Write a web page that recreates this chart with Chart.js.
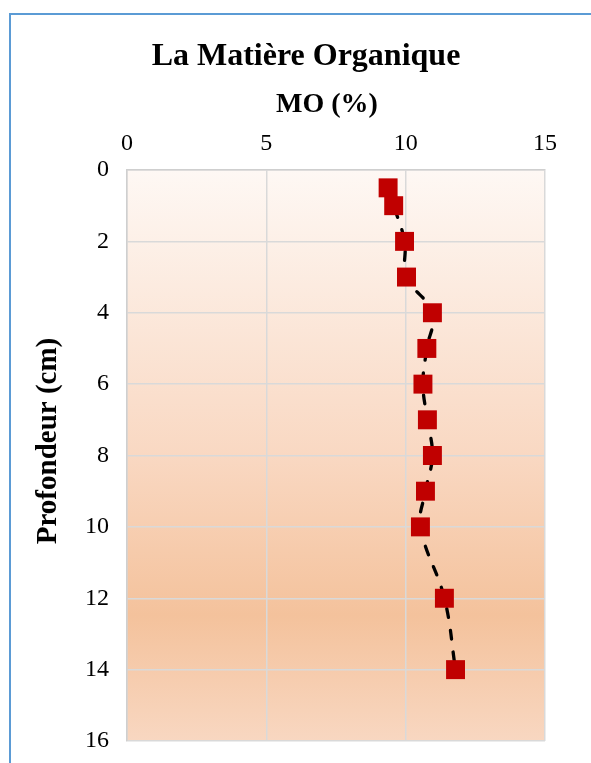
<!DOCTYPE html>
<html>
<head>
<meta charset="utf-8">
<script src="https://cdn.jsdelivr.net/npm/chart.js@4.4.1/dist/chart.umd.min.js"></script>
<style>
  html, body { margin: 0; padding: 0; background: #ffffff; }
  #wrap { position: relative; width: 591px; height: 763px; }
</style>
</head>
<body>
<div id="wrap"><canvas id="c" width="591" height="763"></canvas></div>
<script>
// Soil profile: organic matter (%) measured at each depth (cm)
const depthCm = [0.5, 1, 2, 3, 4, 5, 6, 7, 8, 9, 10, 12, 14];
const organicMatterPct = [9.37, 9.57, 9.96, 10.03, 10.96, 10.76, 10.62, 10.78, 10.96, 10.71, 10.53, 11.39, 11.79];
const moTicks = [0, 5, 10, 15];
const depthTicks = [0, 2, 4, 6, 8, 10, 12, 14, 16];

const chartTitle = 'La Matière Organique';
const xAxisTitle = 'MO (%)';
const yAxisTitle = 'Profondeur (cm)';

const FONT = '"Liberation Serif", "Times New Roman", serif';

const points = depthCm.map((d, i) => ({ x: organicMatterPct[i], y: d }));

// Gradient fill behind the plot area, plus the outer frame and titles
const backdrop = {
  id: 'backdrop',
  beforeDraw(chart) {
    const { ctx, chartArea: a } = chart;
    ctx.save();
    const g = ctx.createLinearGradient(0, a.top, 0, a.bottom);
    g.addColorStop(0, '#fef8f4');
    g.addColorStop(0.5, '#f9d8c2');
    g.addColorStop(0.78, '#f4c29c');
    g.addColorStop(1, '#f8d7c1');
    ctx.fillStyle = g;
    ctx.fillRect(a.left, a.top, a.right - a.left, a.bottom - a.top);
    ctx.restore();
  },
  afterDraw(chart) {
    const { ctx } = chart;
    ctx.save();
    ctx.fillStyle = '#5b9bd5';
    ctx.fillRect(9, 13, 2, 750);
    ctx.fillRect(9, 13, 582, 2);

    ctx.fillStyle = '#000';
    ctx.textAlign = 'center';
    ctx.textBaseline = 'middle';
    ctx.font = 'bold 32px ' + FONT;
    ctx.fillText(chartTitle, 306, 57);
    ctx.font = 'bold 28px ' + FONT;
    ctx.fillText(xAxisTitle, 327, 105);
    ctx.translate(49, 441);
    ctx.rotate(-Math.PI / 2);
    ctx.font = 'bold 29px ' + FONT;
    ctx.fillText(yAxisTitle, 0, 0);
    ctx.restore();
  }
};

new Chart(document.getElementById('c'), {
  type: 'scatter',
  data: {
    datasets: [{
      label: 'MO',
      data: points,
      showLine: true,
      tension: 0.4,
      borderColor: '#000000',
      borderWidth: 3.3,
      borderDash: [9, 13],
      borderCapStyle: 'round',
      pointStyle: 'rect',
      pointRadius: 13.4,
      pointHoverRadius: 13.4,
      pointBackgroundColor: '#c00000',
      pointBorderWidth: 0
    }]
  },
  options: {
    responsive: false,
    animation: false,
    devicePixelRatio: 1,
    events: [],
    layout: { padding: { left: 0, right: 46, top: 60, bottom: 22 } },
    plugins: {
      legend: { display: false },
      tooltip: { enabled: false },
      title: { display: false }
    },
    scales: {
      x: {
        type: 'linear',
        position: 'top',
        min: 0,
        max: 15,
        afterBuildTicks: s => { s.ticks = moTicks.map(v => ({ value: v })); },
        afterFit: s => { s.height = 110; s.paddingLeft = 0; s.paddingRight = 0; },
        ticks: { color: '#000', padding: 12, font: { family: FONT, size: 24 } },
        grid: { color: '#d9d9d9', lineWidth: 1.5, drawTicks: false },
        border: { color: '#cfcfcf', width: 1.5 }
      },
      y: {
        type: 'linear',
        reverse: true,
        min: 0,
        max: 16,
        afterBuildTicks: s => { s.ticks = depthTicks.map(v => ({ value: v })); },
        afterFit: s => { s.width = 127; s.paddingTop = 0; s.paddingBottom = 0; },
        ticks: { color: '#000', padding: 18, font: { family: FONT, size: 24 } },
        grid: { color: '#d9d9d9', lineWidth: 1.5, drawTicks: false },
        border: { color: '#cfcfcf', width: 1.5 }
      }
    }
  },
  plugins: [backdrop]
});
</script>
</body>
</html>
